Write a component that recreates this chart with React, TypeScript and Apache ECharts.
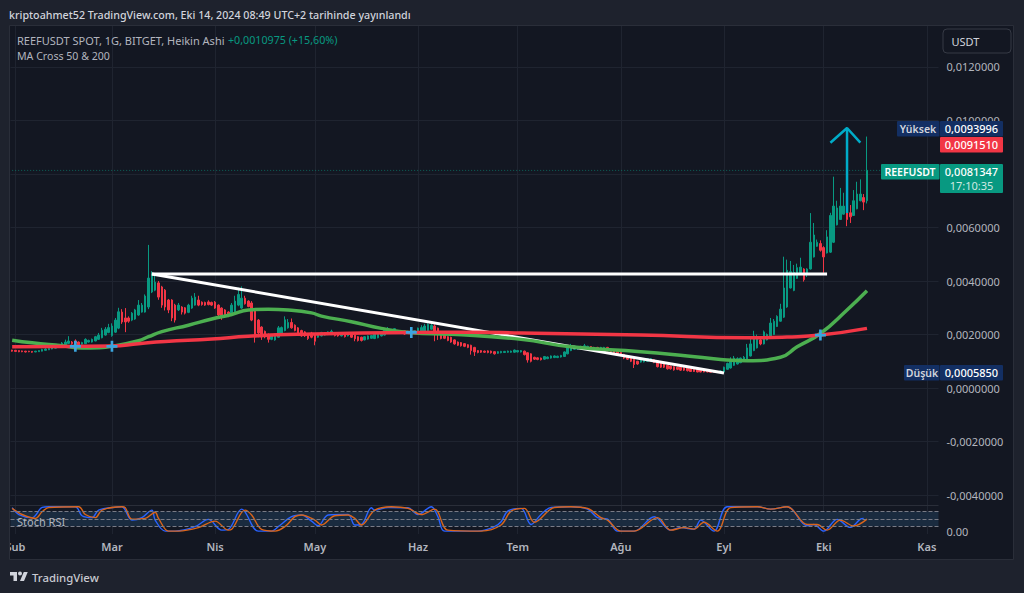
import React, { useEffect, useRef } from "react";
import * as echarts from "echarts";

const febCandles = [
  [142,138,136,143],[141,137,135,142],[140,136,134,141],[139,136,134,140],[138,135,133,139],[138,136,134,139],[137,134,132,138],[135,138,134,139],[136,140,135,141],[138,144,137,147],
  [141,146,140,149],[143,148,142,150],[146,153,145,155],[149,156,148,158],[152,160,151,163],[156,168,155,172],[162,172,160,181],[167,176,165,194],[172,166,162,176],[176,168,165,182],
  [172,160,158,174],[164,170,162,173],[166,182,165,186],[172,178,170,181],[172,182,170,185],[176,192,175,195],[182,198,180,206],[188,216,186,225],[198,220,196,228],[208,226,205,240],
];
const marCandles = [
  [196,232,192,242],[209,254,206,262],[224,285,220,300],[284,247,240,295],[262,247,209,299],[262,250,244,268],[254,280,250,284],[258,292,255,296],[273,310,270,329],[284,310,282,318],
  [284,344,282,350],[303,411,295,535],[359,430,355,437],[366,396,362,430],[393,340,330,400],[378,310,300,382],[366,303,290,370],[329,292,280,333],[329,262,250,332],[310,254,245,315],
  [292,310,288,318],[303,284,275,306],[300,280,275,303],[283,310,280,315],[299,336,296,345],[310,340,308,355],[329,310,306,345],[321,312,308,324],[320,310,307,323],[322,312,309,328],
  [320,310,307,323],
];
const aprCandles = [
  [321,299,296,325],[310,273,260,313],[299,265,255,302],[292,273,268,295],[284,272,265,287],[280,310,275,318],[285,325,282,345],[310,350,306,375],[299,336,296,380],[336,315,312,345],
  [325,305,302,328],[318,254,250,325],[292,191,170,296],[254,206,190,258],[228,191,180,231],[212,191,186,215],[200,182,170,204],[182,195,179,198],[180,200,177,204],[190,225,188,232],
  [200,226,198,230],[215,255,212,268],[225,245,222,258],[245,225,222,260],[235,215,212,238],[225,205,202,228],[215,195,192,218],[210,195,191,213],[200,185,180,203],[205,190,186,210],
];
const mayCandles = [
  [200,175,160,203],[190,200,188,203],[195,208,193,210],[198,206,196,209],[200,210,198,212],[200,212,198,218],[206,196,193,208],[204,195,192,206],[195,204,193,206],[204,192,189,206],
  [195,205,193,207],[200,190,187,202],[198,184,175,200],[192,178,174,194],[190,178,174,192],[180,192,178,194],[183,195,181,197],[186,196,184,198],[185,205,183,207],[188,202,186,204],
  [195,206,193,208],[198,216,196,222],[204,222,202,228],[205,218,203,221],[208,222,206,224],[215,208,205,217],[205,214,203,216],[214,202,199,216],[204,212,202,214],[212,205,202,214],
  [205,215,203,217],
];
const junCandles = [
  [206,224,204,226],[212,226,210,235],[210,232,208,240],[215,238,213,242],[220,234,218,240],[232,206,175,238],[224,210,180,226],[210,185,182,212],[208,186,183,210],[192,178,175,194],
  [190,172,169,192],[180,165,162,182],[172,160,157,174],[170,158,155,172],[166,156,153,168],[162,152,149,164],[160,140,125,162],[152,135,120,154],[140,133,130,142],[140,134,131,142],
  [138,134,131,140],[139,133,130,141],[138,132,129,140],[136,128,125,138],[130,136,128,138],[132,137,130,139],[133,137,131,139],[134,138,132,140],[134,138,132,140],[134,142,132,144],
];
const julCandles = [
  [135,140,133,142],[135,140,133,142],[138,125,122,140],[132,105,95,134],[128,100,96,130],[115,108,105,117],[113,107,104,115],[112,106,103,114],[108,118,106,120],[110,116,108,118],
  [112,120,110,122],[114,120,112,122],[114,119,112,121],[116,122,114,124],[118,135,116,137],[128,150,126,152],[140,155,138,165],[145,156,143,158],[146,155,144,157],[147,156,145,158],
  [148,158,146,165],[150,156,148,158],[155,146,143,157],[152,144,141,154],[152,143,140,154],[146,152,144,154],[146,152,144,154],[152,140,137,154],[146,136,133,148],[142,130,127,144],
  [138,128,125,140],
];
const augCandles = [
  [134,122,119,136],[126,112,108,128],[120,108,105,122],[115,100,97,117],[108,88,75,110],[100,90,87,102],[97,112,95,114],[98,108,96,110],[100,110,98,112],[102,110,100,112],
  [106,96,93,108],[102,80,77,104],[95,78,75,97],[90,78,75,92],[85,72,69,87],[82,72,69,84],[80,68,65,82],[78,70,67,80],[78,67,64,80],[76,67,64,78],
  [75,65,62,77],[72,62,60,74],[70,62,60,72],[70,60,59,72],[68,60,59,70],[68,60,59,70],[66,60,59,68],[64,59,58.5,66],[63,59,58.5,65],[62,59,58.5,64],
  [58.5,64,58.5,66],
];
const sepCandles = [
  [60,78,59,80],[70,92,68,95],[75,105,73,115],[85,112,83,120],[90,110,88,115],[95,112,93,114],[100,115,98,120],[105,150,103,165],[120,165,118,185],[140,195,138,214],
  [150,190,148,200],[180,165,160,190],[165,210,163,215],[180,200,178,204],[191,243,188,262],[200,250,198,258],[230,268,228,272],[250,295,248,315],[265,374,262,491],[303,440,300,480],
  [374,435,372,475],[365,432,362,460],[410,450,408,465],[425,452,423,487],[445,405,398,448],[425,445,415,448],[445,545,443,654],[490,572,488,617],[530,545,528,555],[540,515,510,552],
];
const octCandles = [
  [525,490,431,530],[505,565,503,590],[508,645,505,655],[545,680,542,790],[610,673,608,700],[630,680,628,748],[650,680,648,730],[668,630,605,680],[655,640,617,684],[645,700,643,740],
  [670,725,668,771],[700,725,698,780],[712,695,665,725],[700,813.47,690,939.96],
];

// [day since 1 Feb, value in 1e-5 USDT]
const ma50Knots = [[-1,179],[5,169],[14,158],[20,150],[25,151],[29,156],[37,177],[40,192],[44,211],[52,235],[59,258],[65,275],[70,292],[76,295],[82,292],[89,281],[92,269],[101,248],[110,223],[119,207],[131,201],[152,182],[167,154],[188,136],[202,120],[212,107],[220,102],[230,115],[235,154],[242,204],[250,292],[256,364]];
const ma200Knots = [[-1,154],[29,157],[37,166],[45,174],[59,183],[70,194],[89,202],[119,208],[137,209],[152,206],[188,198],[220,188],[232,191],[242,198],[256,223]];
const crossDays = [[18,156],[29,156],[119,208],[242,198]];
const flatTrend = [[41,426],[244,426]];
const fallTrend = [[41,426],[213,56]];
const arrowShaft = [[250,654],[250,972]];
const arrowHead = [[245,917],[250,972],[254,917]];
const lastPriceLine = [[-1,813.47],[277,813.47]];

// [day since 1 Feb, Stoch RSI value]
const stochK = [[-1,96],[1,68],[5,55],[8,97],[10,100],[18,100],[20,63],[23,55],[25,86],[30,98],[32,100],[35,45],[38,55],[41,86],[42,45],[45,0],[48,0],[54,18],[58,48],[62,4],[64,7],[68,90],[69,79],[73,0],[77,0],[79,18],[83,59],[86,66],[89,41],[91,22],[94,66],[100,68],[102,25],[104,27],[107,96],[108,86],[112,97],[118,96],[121,68],[125,100],[127,59],[129,0],[139,0],[144,18],[146,38],[148,82],[152,93],[155,27],[158,68],[161,97],[167,100],[172,90],[175,55],[178,49],[181,0],[186,0],[192,59],[197,4],[200,14],[204,8],[206,45],[210,0],[214,100],[223,100],[227,90],[232,100],[238,22],[240,27],[243,0],[247,48],[251,15],[254,49],[255,52]];
const stochD = [[-1,93],[2,68],[6,52],[8,79],[10,97],[19,100],[21,68],[24,55],[26,86],[32,100],[33,96],[35,49],[39,52],[42,77],[43,52],[46,0],[49,0],[55,14],[60,41],[64,4],[65,7],[69,86],[71,66],[74,7],[78,0],[81,18],[84,59],[86,66],[90,45],[92,25],[96,63],[100,66],[102,52],[104,25],[108,86],[113,100],[118,93],[122,68],[126,90],[130,4],[140,0],[146,25],[149,82],[153,93],[156,36],[162,97],[167,100],[172,93],[176,55],[178,45],[182,0],[186,0],[193,55],[197,4],[201,14],[204,8],[207,36],[211,0],[215,96],[223,100],[227,90],[232,100],[238,27],[241,27],[244,4],[248,45],[252,21],[256,49]];

const monthDays = [0, 29, 60, 90, 121, 151, 182, 213, 243, 274];
const monthLabels = ["Şub", "Mar", "Nis", "May", "Haz", "Tem", "Ağu", "Eyl", "Eki", "Kas"];
const priceTicks = [-0.004, -0.002, 0, 0.002, 0.004, 0.006, 0.008, 0.01, 0.012];
const priceLabels = [-0.004, -0.002, 0, 0.002, 0.004, 0.006, 0.01, 0.012];

const FONT = '"Noto Sans", sans-serif';
const TEAL = "#089981";
const RED = "#f23645";
const NAVY = "#132f63";
const TEXT = "#b2b5be";
const PANEL = "#131722";
const OUTER = "#1e222d";
const GRID_LINE = "#1f2430";
const TV_LOGO = "M14 22H7V11H0V4h14v18ZM28 22h-8l7.5-18h8L28 22ZM20 3a4 4 0 1 1 0 8 4 4 0 0 1 0-8Z";
const CROSS_SYMBOL = "path://M38,0 L62,0 L62,38 L100,38 L100,62 L62,62 L62,100 L38,100 L38,62 L0,62 L0,38 L38,38 Z";

const dayCount = 279;
const categories = Array.from({ length: dayCount }, (_, i) => String(i - 1));
const toIndex = (d: number) => d + 1;
const monthIndex = monthDays.map(toIndex);
const e5 = (v: number) => v * 1e-5;
const pricePair = (p: number[]) => [toIndex(p[0]), e5(p[1])];
const stochPair = (p: number[]) => [toIndex(p[0]), p[1]];
const candles = [...febCandles, ...marCandles, ...aprCandles, ...mayCandles, ...junCandles, ...julCandles, ...augCandles, ...sepCandles, ...octCandles].map((r) => r.map(e5));
const showMonth = (i: number) => monthIndex.includes(i);
const priceFmt = (v: number) => v.toFixed(7).replace(".", ",");

const box = (x: number, y: number, width: number, height: number, fill: string, r = 1, z = 50) => ({
  type: "rect", shape: { x, y, width, height, r }, style: { fill }, z, silent: true,
});
const label = (text: string, x: number, y: number, fill = TEXT, size = 11.5, align = "left", weight = "normal", z = 60) => ({
  type: "text", x, y, z, silent: true,
  style: { text, fill, font: `${weight} ${size}px ${FONT}`, textAlign: align, textVerticalAlign: "middle" },
});

export default function App() {
  const ref = useRef<HTMLDivElement>(null);
  useEffect(() => {
    document.body.style.margin = "0";
    echarts.graphic.registerShape("logo", echarts.graphic.extendPath(TV_LOGO, {}));
    const chart = echarts.init(ref.current!, null, { renderer: "svg" });
    const lineBase = { type: "line", showSymbol: false, symbol: "none", silent: true };
    chart.setOption({
      animation: false,
      backgroundColor: OUTER,
      grid: [
        { left: 10.5, width: 928, top: 25.5, height: 479.5 },
        { left: 10.5, width: 928, top: 505, height: 29 },
      ],
      xAxis: [0, 1].map((gridIndex) => ({
        type: "category",
        gridIndex,
        data: categories,
        axisLine: { show: false },
        axisTick: { show: false },
        splitLine: { show: true, alignWithLabel: true, interval: (i: number) => showMonth(i), lineStyle: { color: GRID_LINE, width: 1 } },
        axisLabel: gridIndex === 0 ? { show: false } : {
          show: true, margin: 7, interval: (i: number) => showMonth(i), color: TEXT, fontFamily: FONT, fontSize: 11, fontWeight: 600,
          hideOverlap: false,
          formatter: (v: string) => monthLabels[monthDays.indexOf(Number(v))] ?? "",
        },
      })),
      yAxis: [
        {
          type: "value", gridIndex: 0, position: "right", scale: true, min: -0.00437, max: 0.01355,
          axisLine: { show: false },
          axisTick: { show: false, customValues: priceTicks },
          splitLine: { show: true, lineStyle: { color: GRID_LINE, width: 1 } },
          axisLabel: { show: true, customValues: priceLabels, margin: 8, color: TEXT, fontFamily: FONT, fontSize: 11, formatter: priceFmt, showMinLabel: true, showMaxLabel: true },
        },
        {
          type: "value", gridIndex: 1, position: "right", min: -12, max: 107,
          axisLine: { show: false },
          axisTick: { show: false, customValues: [0] },
          splitLine: { show: false },
          axisLabel: { show: true, customValues: [0], margin: 8, color: TEXT, fontFamily: FONT, fontSize: 11, formatter: () => "0.00" },
        },
      ],
      series: [
        { ...lineBase, name: "Last price", data: lastPriceLine.map(pricePair), lineStyle: { color: TEAL, type: [1, 2], width: 1, opacity: 0.6 } },
        { ...lineBase, name: "Trend flat", data: flatTrend.map(pricePair), lineStyle: { color: "#ffffff", width: 3 } },
        { ...lineBase, name: "Trend fall", data: fallTrend.map(pricePair), lineStyle: { color: "#ffffff", width: 3 } },
        {
          type: "candlestick", name: "REEFUSDT", data: candles, barWidth: 2, silent: true,
          itemStyle: { color: TEAL, color0: RED, borderColor: TEAL, borderColor0: RED, borderWidth: 1 },
        },
        { ...lineBase, name: "MA 50", data: ma50Knots.map(pricePair), smooth: 0.5, lineStyle: { color: "#4caf50", width: 3.5 } },
        { ...lineBase, name: "MA 200", data: ma200Knots.map(pricePair), smooth: 0.5, lineStyle: { color: RED, width: 3.5 } },
        {
          type: "scatter", name: "Cross", xAxisIndex: 0, yAxisIndex: 0, data: crossDays.map(pricePair), silent: true, z: 10,
          symbol: CROSS_SYMBOL, symbolSize: 11,
          itemStyle: { color: "#3aa6e0", opacity: 1 },
        },
        { ...lineBase, name: "Arrow shaft", data: arrowShaft.map(pricePair), lineStyle: { color: "#00acc8", width: 2.5 } },
        { ...lineBase, name: "Arrow head", data: arrowHead.map(pricePair), lineStyle: { color: "#00acc8", width: 2.5 } },
        {
          ...lineBase, name: "Stoch K", xAxisIndex: 1, yAxisIndex: 1, data: stochK.map(stochPair), smooth: 0.35,
          lineStyle: { color: "#2962ff", width: 1.4 },
          markArea: { silent: true, itemStyle: { color: "#1a2b3f" }, data: [[{ yAxis: 80 }, { yAxis: 20 }]] },
          markLine: {
            silent: true, symbol: "none", animation: false, label: { show: false },
            lineStyle: { color: "#787b86", type: "dashed", width: 1 },
            data: [{ yAxis: 80 }, { yAxis: 50 }, { yAxis: 20 }],
          },
        },
        {
          ...lineBase, name: "Stoch D", xAxisIndex: 1, yAxisIndex: 1, data: stochD.map(stochPair), smooth: 0.35,
          lineStyle: { color: "#d9641a", width: 1.4 },
        },
      ],
      graphic: [
        box(9.5, 25.5, 1004, 534, PANEL, 0, -10),
        { type: "rect", shape: { x: 9.5, y: 25.5, width: 1004, height: 534 }, style: { fill: "none", stroke: "#2a2e39", lineWidth: 1 }, z: 40, silent: true },
        { type: "line", shape: { x1: 10, y1: 505.5, x2: 938.5, y2: 505.5 }, style: { stroke: "#2a2e39", lineWidth: 1 }, z: 40, silent: true },
        box(0, 535, 9, 24, OUTER, 0, 45),
        label("kriptoahmet52 TradingView.com, Eki 14, 2024 08:49 UTC+2 tarihinde yayınlandı", 9, 14.5, "#d1d4dc", 10.7, "left", 500),
        label("REEFUSDT SPOT, 1G, BITGET, Heikin Ashi", 17, 40, TEXT, 11),
        label("+0,0010975 (+15,60%)", 228, 40, TEAL, 10.7),
        label("MA Cross 50 & 200", 17, 56, TEXT, 10.6),
        label("Stoch RSI", 17, 521, TEXT, 11),
        { type: "rect", shape: { x: 943, y: 29, width: 68, height: 24, r: 4 }, style: { fill: PANEL, stroke: "#363a45", lineWidth: 1 }, z: 50, silent: true },
        label("USDT", 951.5, 41, "#d1d4dc", 11),
        box(897, 121, 42.5, 15.5, NAVY),
        label("Yüksek", 918, 128.8, "#d1d4dc", 10.5, "center", 600),
        box(940, 121, 63, 15.5, NAVY),
        label("0,0093996", 971.5, 128.8, "#ffffff", 11, "center", 500),
        box(940, 137, 63, 15.5, RED),
        label("0,0091510", 971.5, 144.8, "#ffffff", 11, "center", 500),
        box(881, 164, 58.5, 15.5, TEAL),
        label("REEFUSDT", 910, 171.8, "#ffffff", 10.5, "center", 600),
        box(940, 164, 63, 29, TEAL),
        label("0,0081347", 971.5, 171.8, "#ffffff", 11, "center", 500),
        label("17:10:35", 971.5, 185, "#cfe9e3", 11, "center"),
        box(904, 365, 35.5, 15.5, NAVY),
        label("Düşük", 922, 372.8, "#d1d4dc", 10.5, "center", 600),
        box(940, 365, 63, 15.5, NAVY),
        label("0,0005850", 971.5, 372.8, "#ffffff", 11, "center", 500),
        { type: "logo", x: 10, y: 570, scaleX: 0.5, scaleY: 0.5, style: { fill: "#d1d4dc" }, z: 60, silent: true },
        label("TradingView", 32, 577, "#c8cad1", 11.4, "left", 500),
      ],
    });
    return () => chart.dispose();
  }, []);
  return <div ref={ref} style={{ position: "absolute", left: 0, top: 0, width: 1024, height: 593 }} />;
}
